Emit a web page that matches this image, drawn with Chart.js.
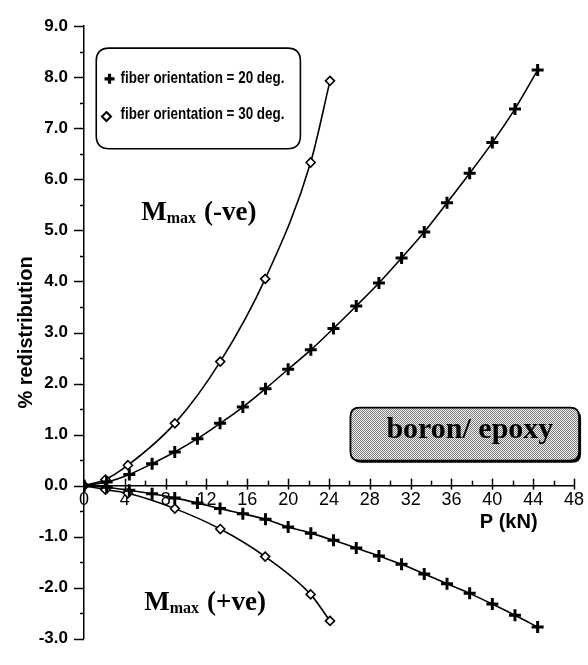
<!DOCTYPE html>
<html>
<head>
<meta charset="utf-8">
<script src="https://cdn.jsdelivr.net/npm/chart.js@4.4.0/dist/chart.umd.min.js"></script>
<style>
  body { margin: 0; background: #fff; }
  canvas { display: block; }
</style>
</head>
<body>
<canvas id="chart" width="588" height="665"></canvas>
<script>
// P (kN) at which the 20 deg. points were computed
const loads20 = [0, 2.22, 4.44, 6.67, 8.89, 11.11, 13.33, 15.56, 17.78, 20.0, 22.22,
  24.44, 26.67, 28.89, 31.11, 33.33, 35.56, 37.78, 40.0, 42.22, 44.44]
const neg20 = [0, 0.07, 0.22, 0.43, 0.66, 0.92, 1.22, 1.54, 1.90, 2.28, 2.66,
  3.08, 3.52, 3.97, 4.46, 4.97, 5.54, 6.12, 6.72, 7.38, 8.14]
const pos20 = [0, -0.03, -0.09, -0.16, -0.24, -0.34, -0.45, -0.55, -0.66, -0.81, -0.93,
  -1.07, -1.22, -1.38, -1.54, -1.73, -1.92, -2.11, -2.32, -2.54, -2.77]

// P (kN) for the 30 deg. points
const loads30 = [0, 2.1, 4.3, 8.9, 13.35, 17.75, 22.2, 24.1]
const neg30 = [0, 0.12, 0.40, 1.22, 2.43, 4.05, 6.33, 7.93]
const pos30 = [0, -0.08, -0.15, -0.45, -0.85, -1.39, -2.13, -2.65]

const seriesLabels = ['fiber orientation = 20 deg.', 'fiber orientation = 30 deg.']
const xTickLabels = [0, 4, 8, 12, 16, 20, 24, 28, 32, 36, 40, 44, 48]
const yTickLabels = [-3, -2, -1, 0, 1, 2, 3, 4, 5, 6, 7, 8, 9]

const SANS = '"Liberation Sans", Arial, sans-serif'
const SERIF = '"Liberation Serif", "Times New Roman", serif'

const pts = (xs, ys) => xs.map((x, i) => ({ x: x, y: ys[i] }))

const crossStyle = {
  borderColor: '#000', backgroundColor: '#000', borderWidth: 1.6,
  pointStyle: 'cross', pointRadius: 6, pointBorderWidth: 3,
  pointBorderColor: '#000', showLine: true, cubicInterpolationMode: 'monotone'
}
const diamondStyle = {
  borderColor: '#000', backgroundColor: '#fff', borderWidth: 1.6,
  pointStyle: 'rectRot', pointRadius: 4.5, pointBorderWidth: 1.6,
  pointBackgroundColor: '#fff', pointBorderColor: '#000',
  showLine: true, cubicInterpolationMode: 'monotone'
}

function roundRect(ctx, x, y, w, h, r) {
  ctx.beginPath()
  ctx.moveTo(x + r, y)
  ctx.lineTo(x + w - r, y)
  ctx.quadraticCurveTo(x + w, y, x + w, y + r)
  ctx.lineTo(x + w, y + h - r)
  ctx.quadraticCurveTo(x + w, y + h, x + w - r, y + h)
  ctx.lineTo(x + r, y + h)
  ctx.quadraticCurveTo(x, y + h, x, y + h - r)
  ctx.lineTo(x, y + r)
  ctx.quadraticCurveTo(x, y, x + r, y)
  ctx.closePath()
}

function stipple(ctx) {
  const c = document.createElement('canvas')
  c.width = 2; c.height = 2
  const p = c.getContext('2d')
  p.fillStyle = '#fafafa'; p.fillRect(0, 0, 2, 2)
  p.fillStyle = '#777'; p.fillRect(0, 0, 1, 1); p.fillRect(1, 1, 1, 1)
  return ctx.createPattern(c, 'repeat')
}

// condensed bold text, squeezed horizontally
function narrowText(ctx, text, x, y, size, squeeze) {
  ctx.save()
  ctx.translate(x, y)
  ctx.scale(squeeze, 1)
  ctx.font = 'bold ' + size + 'px ' + SANS
  ctx.fillText(text, 0, 0)
  ctx.restore()
}

// tick marks, legend box, text labels
const decorations = {
  id: 'decorations',
  afterDraw(chart) {
    const { ctx } = chart
    const xs = chart.scales.x, ys = chart.scales.y
    const X = v => xs.getPixelForValue(v)
    const Y = v => ys.getPixelForValue(v)
    ctx.save()
    ctx.strokeStyle = '#000'
    ctx.lineWidth = 1.5

    // y ticks
    const ax = xs.left
    ys.ticks.forEach(t => {
      const major = Math.abs(t.value - Math.round(t.value)) < 1e-6
      const py = Math.round(Y(t.value)) + 0.5
      ctx.beginPath()
      ctx.moveTo(ax - (major ? 10 : 4), py)
      ctx.lineTo(ax, py)
      ctx.stroke()
    })
    // x ticks
    const ay = Y(0)
    xs.ticks.forEach(t => {
      if (t.value === 0) return
      const major = t.value % 4 === 0
      const px = Math.round(X(t.value)) + 0.5
      ctx.beginPath()
      ctx.moveTo(px, ay - (major ? 7 : 5))
      ctx.lineTo(px, ay + (major ? 4 : 0))
      ctx.stroke()
    })

    // x axis title
    ctx.fillStyle = '#000'
    ctx.font = 'bold 20px ' + SANS
    ctx.textAlign = 'center'
    ctx.textBaseline = 'middle'
    ctx.fillText('P (kN)', X(41.6), Y(-0.72))

    // legend
    const lx = X(1.2), ly = Y(8.57)
    ctx.lineWidth = 1.6
    roundRect(ctx, lx, ly, X(21.2) - lx, Y(6.6) - ly, 13)
    ctx.fillStyle = '#fff'
    ctx.fill()
    ctx.stroke()
    ctx.fillStyle = '#000'
    ctx.textAlign = 'left'
    narrowText(ctx, seriesLabels[0], X(3.58), Y(7.97), 16, 0.84)
    narrowText(ctx, seriesLabels[1], X(3.58), Y(7.27), 16, 0.84)
    // legend markers
    let mx = X(2.5), my = Y(7.97)
    ctx.lineWidth = 3.2
    ctx.beginPath()
    ctx.moveTo(mx - 5, my); ctx.lineTo(mx + 5, my)
    ctx.moveTo(mx, my - 5); ctx.lineTo(mx, my + 5)
    ctx.stroke()
    mx = X(2.2); my = Y(7.23)
    ctx.lineWidth = 2
    ctx.beginPath()
    ctx.moveTo(mx, my - 4.5); ctx.lineTo(mx + 4.5, my)
    ctx.lineTo(mx, my + 4.5); ctx.lineTo(mx - 4.5, my)
    ctx.closePath()
    ctx.fillStyle = '#fff'
    ctx.fill()
    ctx.stroke()

    // M_max labels
    function mmax(vx, vy, suffix) {
      let px = X(vx)
      const py = Y(vy)
      ctx.fillStyle = '#000'
      ctx.textAlign = 'left'
      ctx.textBaseline = 'alphabetic'
      ctx.font = 'bold 27px ' + SERIF
      ctx.fillText('M', px, py)
      px += ctx.measureText('M').width
      ctx.font = 'bold 16px ' + SERIF
      ctx.fillText('max', px, py + 3)
      px += ctx.measureText('max ').width + 4
      ctx.font = 'bold 27px ' + SERIF
      ctx.fillText(suffix, px, py)
    }
    mmax(5.6, 5.2, '(-ve)')
    mmax(5.9, -2.43, '(+ve)')

    // material box
    const bx = X(26.1), by = Y(1.53)
    const bw = X(48.5) - bx, bh = Y(0.49) - by
    roundRect(ctx, bx + 2, by + 2, bw, bh, 9)
    ctx.fillStyle = '#000'
    ctx.fill()
    roundRect(ctx, bx, by, bw, bh, 9)
    ctx.fillStyle = stipple(ctx)
    ctx.fill()
    ctx.lineWidth = 1.8
    ctx.strokeStyle = '#000'
    ctx.stroke()
    ctx.fillStyle = '#000'
    ctx.font = 'bold 30px ' + SERIF
    ctx.textAlign = 'center'
    ctx.fillText('boron/ epoxy', X(37.8), Y(0.94))
    ctx.restore()
  }
}

new Chart(document.getElementById('chart'), {
  type: 'scatter',
  data: {
    datasets: [
      Object.assign({ label: seriesLabels[0], data: pts(loads20, neg20) }, crossStyle),
      Object.assign({ label: seriesLabels[0], data: pts(loads20, pos20) }, crossStyle),
      Object.assign({ label: seriesLabels[1], data: pts(loads30, neg30) }, diamondStyle),
      Object.assign({ label: seriesLabels[1], data: pts(loads30, pos30) }, diamondStyle)
    ]
  },
  options: {
    responsive: false,
    animation: false,
    layout: { padding: { left: 0, top: 15, right: 10, bottom: 11 } },
    plugins: { legend: { display: false }, tooltip: { enabled: false } },
    scales: {
      x: {
        type: 'linear',
        position: { y: 0 },
        min: 0, max: 48,
        grid: { display: false, drawTicks: false },
        border: { display: true, color: '#000', width: 1.5 },
        ticks: {
          stepSize: 2, padding: 4, color: '#000', maxRotation: 0, autoSkip: false,
          font: { family: SANS, size: 18 },
          callback: v => xTickLabels.includes(v) ? String(v) : ''
        }
      },
      y: {
        type: 'linear',
        min: -3, max: 9,
        afterFit: s => { s.width = 84 },
        grid: { display: false, drawTicks: false },
        border: { display: true, color: '#000', width: 1.5 },
        ticks: {
          stepSize: 0.5, padding: 16, color: '#000', autoSkip: false,
          font: { family: SANS, size: 17, weight: 'bold' },
          callback: v => yTickLabels.includes(v) ? v.toFixed(1) : ''
        },
        title: {
          display: true, text: '% redistribution', color: '#000',
          font: { family: SANS, size: 20, weight: 'bold' },
          padding: { top: 14, bottom: 0 }
        }
      }
    }
  },
  plugins: [decorations]
})
</script>
</body>
</html>
